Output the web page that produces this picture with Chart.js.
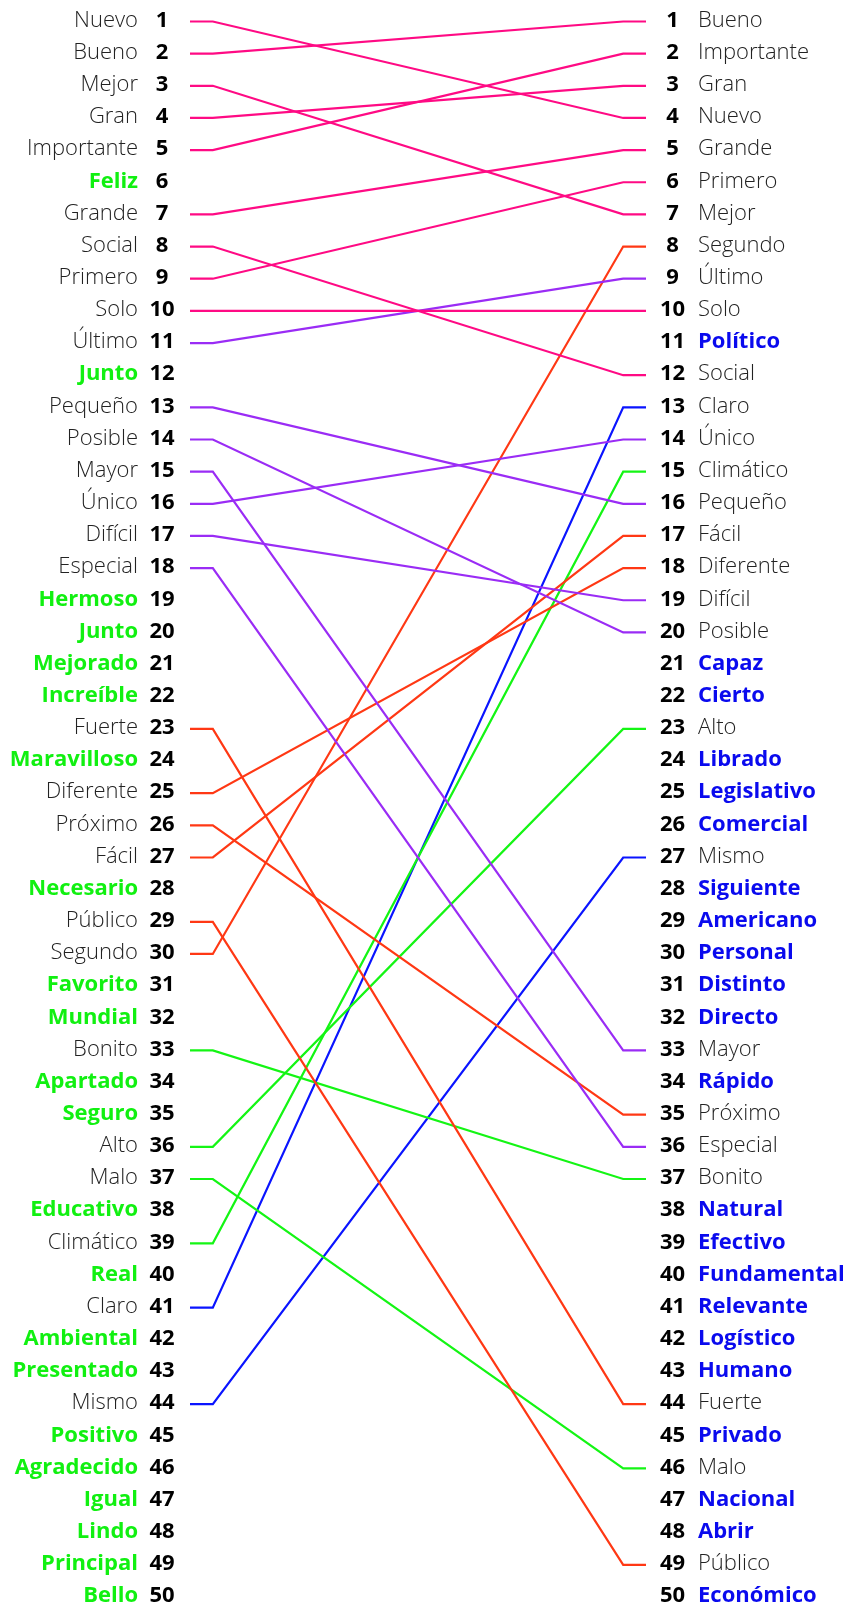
<!DOCTYPE html>
<html>
<head>
<meta charset="utf-8">
<script src="https://cdn.jsdelivr.net/npm/chart.js@4"></script>
<style>
  body { margin: 0; background: #fff; }
  #wrap { width: 857px; height: 1607px; position: relative; }
</style>
</head>
<body>
<div id="wrap"><canvas id="slopeChart"></canvas></div>
<script>
// rankings, position in list = rank
var leftWords = ["Nuevo", "Bueno", "Mejor", "Gran", "Importante", "Feliz", "Grande", "Social", "Primero", "Solo",
  "Último", "Junto", "Pequeño", "Posible", "Mayor", "Único", "Difícil", "Especial", "Hermoso", "Junto",
  "Mejorado", "Increíble", "Fuerte", "Maravilloso", "Diferente", "Próximo", "Fácil", "Necesario", "Público", "Segundo",
  "Favorito", "Mundial", "Bonito", "Apartado", "Seguro", "Alto", "Malo", "Educativo", "Climático", "Real",
  "Claro", "Ambiental", "Presentado", "Mismo", "Positivo", "Agradecido", "Igual", "Lindo", "Principal", "Bello"];

var rightWords = ["Bueno", "Importante", "Gran", "Nuevo", "Grande", "Primero", "Mejor", "Segundo", "Último", "Solo",
  "Político", "Social", "Claro", "Único", "Climático", "Pequeño", "Fácil", "Diferente", "Difícil", "Posible",
  "Capaz", "Cierto", "Alto", "Librado", "Legislativo", "Comercial", "Mismo", "Siguiente", "Americano", "Personal",
  "Distinto", "Directo", "Mayor", "Rápido", "Próximo", "Especial", "Bonito", "Natural", "Efectivo", "Fundamental",
  "Relevante", "Logístico", "Humano", "Fuerte", "Privado", "Malo", "Nacional", "Abrir", "Público", "Económico"];

// line colour by left rank group (1-10, 11-20, ...)
var groupColors = ["#ff0a84", "#9a2cf5", "#ff3814", "#14f514", "#0a14ff"];
var onlyLeftColor = "#11f011";
var onlyRightColor = "#0a0aee";

var datasets = [];
leftWords.forEach(function(w, i) {
  var j = rightWords.indexOf(w);
  if (j < 0) return;
  var l = i + 1, r = j + 1;
  datasets.push({
    label: w,
    data: [{x: 0, y: l}, {x: 0.05, y: l}, {x: 0.95, y: r}, {x: 1, y: r}],
    borderColor: groupColors[Math.floor(i / 10)],
    borderWidth: 2.2,
    pointRadius: 0,
    tension: 0,
    clip: false
  });
});

var labelPlugin = {
  id: 'rankLabels',
  afterDraw: function(chart) {
    var ctx = chart.ctx;
    var ys = chart.scales.y;
    var a = chart.chartArea;
    ctx.save();
    ctx.textBaseline = 'middle';
    for (var i = 0; i < 50; i++) {
      var y = ys.getPixelForValue(i + 1) - 1;
      var lw = leftWords[i], rw = rightWords[i];
      var lOnly = rightWords.indexOf(lw) < 0;
      var rOnly = leftWords.indexOf(rw) < 0;

      ctx.textAlign = 'right';
      ctx.font = (lOnly ? '700' : '300') + ' 22px "Open Sans"';
      ctx.fillStyle = lOnly ? onlyLeftColor : '#222';
      ctx.fillText(lw, a.left - 52, y);

      ctx.textAlign = 'center';
      ctx.font = '700 22px "Open Sans"';
      ctx.fillStyle = '#000';
      ctx.fillText(String(i + 1), a.left - 28, y);
      ctx.fillText(String(i + 1), a.right + 26.5, y);

      ctx.textAlign = 'left';
      ctx.font = (rOnly ? '700' : '300') + ' 22px "Open Sans"';
      ctx.fillStyle = rOnly ? onlyRightColor : '#222';
      ctx.fillText(rw, a.right + 52, y);
    }
    ctx.restore();
  }
};

new Chart(document.getElementById('slopeChart'), {
  type: 'line',
  data: { datasets: datasets },
  options: {
    responsive: true,
    maintainAspectRatio: false,
    animation: false,
    layout: { padding: { left: 190, right: 211, top: 21.5, bottom: 10 } },
    plugins: { legend: { display: false }, tooltip: { enabled: false } },
    scales: {
      x: { type: 'linear', min: 0, max: 1, display: false },
      y: { type: 'linear', min: 1, max: 50, reverse: true, display: false }
    }
  },
  plugins: [labelPlugin]
});
</script>
</body>
</html>
